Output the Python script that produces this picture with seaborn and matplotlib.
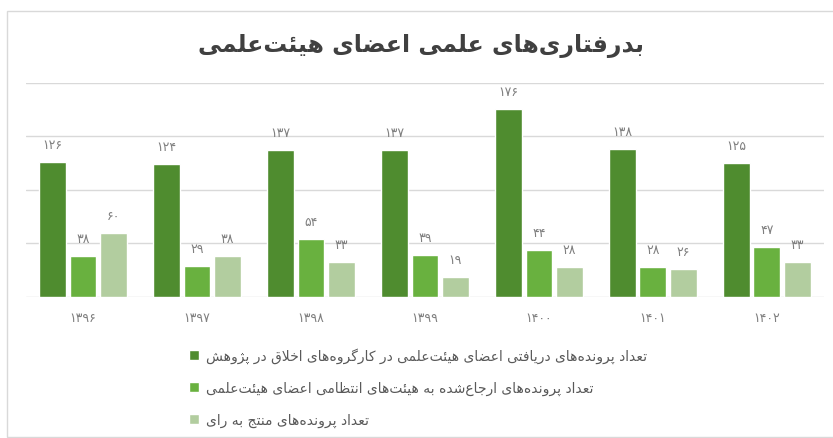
import matplotlib
matplotlib.use("Agg")
import matplotlib.pyplot as plt
import seaborn as sns
import pandas as pd
from matplotlib.patches import Rectangle

# ---------------- data ----------------
years = ["۱۳۹۶", "۱۳۹۷", "۱۳۹۸", "۱۳۹۹", "۱۴۰۰", "۱۴۰۱", "۱۴۰۲"]
received = [126, 124, 137, 137, 176, 138, 125]
referred = [38, 29, 54, 39, 44, 28, 47]
verdicts = [60, 38, 33, 19, 28, 26, 33]
series_names = [
    "تعداد پرونده‌های دریافتی اعضای هیئت‌علمی در کارگروه‌های اخلاق در پژوهش",
    "تعداد پرونده‌های ارجاع‌شده به هیئت‌های انتظامی اعضای هیئت‌علمی",
    "تعداد پرونده‌های منتج به رای",
]
title_text = "بدرفتاری‌های علمی اعضای هیئت‌علمی"
colors = ["#4f8c2f", "#69b13f", "#b2cd9f"]

# ---------------- simple Arabic-script shaping (RTL) ----------------
FORMS = {
    'ا': ('\uFE8D', '\uFE8E', None, None), 'آ': ('\uFE81', '\uFE82', None, None),
    'ب': ('\uFE8F', '\uFE90', '\uFE91', '\uFE92'), 'پ': ('\uFB56', '\uFB57', '\uFB58', '\uFB59'),
    'ت': ('\uFE95', '\uFE96', '\uFE97', '\uFE98'), 'ث': ('\uFE99', '\uFE9A', '\uFE9B', '\uFE9C'),
    'ج': ('\uFE9D', '\uFE9E', '\uFE9F', '\uFEA0'), 'چ': ('\uFB7A', '\uFB7B', '\uFB7C', '\uFB7D'),
    'ح': ('\uFEA1', '\uFEA2', '\uFEA3', '\uFEA4'), 'خ': ('\uFEA5', '\uFEA6', '\uFEA7', '\uFEA8'),
    'د': ('\uFEA9', '\uFEAA', None, None), 'ذ': ('\uFEAB', '\uFEAC', None, None),
    'ر': ('\uFEAD', '\uFEAE', None, None), 'ز': ('\uFEAF', '\uFEB0', None, None),
    'ژ': ('\uFB8A', '\uFB8B', None, None),
    'س': ('\uFEB1', '\uFEB2', '\uFEB3', '\uFEB4'), 'ش': ('\uFEB5', '\uFEB6', '\uFEB7', '\uFEB8'),
    'ص': ('\uFEB9', '\uFEBA', '\uFEBB', '\uFEBC'), 'ض': ('\uFEBD', '\uFEBE', '\uFEBF', '\uFEC0'),
    'ط': ('\uFEC1', '\uFEC2', '\uFEC3', '\uFEC4'), 'ظ': ('\uFEC5', '\uFEC6', '\uFEC7', '\uFEC8'),
    'ع': ('\uFEC9', '\uFECA', '\uFECB', '\uFECC'), 'غ': ('\uFECD', '\uFECE', '\uFECF', '\uFED0'),
    'ف': ('\uFED1', '\uFED2', '\uFED3', '\uFED4'), 'ق': ('\uFED5', '\uFED6', '\uFED7', '\uFED8'),
    'ک': ('\uFB8E', '\uFB8F', '\uFB90', '\uFB91'), 'گ': ('\uFB92', '\uFB93', '\uFB94', '\uFB95'),
    'ل': ('\uFEDD', '\uFEDE', '\uFEDF', '\uFEE0'), 'م': ('\uFEE1', '\uFEE2', '\uFEE3', '\uFEE4'),
    'ن': ('\uFEE5', '\uFEE6', '\uFEE7', '\uFEE8'), 'و': ('\uFEED', '\uFEEE', None, None),
    'ه': ('\uFEE9', '\uFEEA', '\uFEEB', '\uFEEC'), 'ی': ('\uFBFC', '\uFBFD', '\uFBFE', '\uFBFF'),
    'ئ': ('\uFE89', '\uFE8A', '\uFE8B', '\uFE8C'),
}
LAM_ALEF = {'ا': ('\uFEFB', '\uFEFC'), 'آ': ('\uFEF5', '\uFEF6')}


def dual(c):
    return c in FORMS and FORMS[c][2] is not None


def shape(text):
    out = []
    n = len(text)
    i = 0
    while i < n:
        c = text[i]
        if c not in FORMS:
            if c != '\u200c':
                out.append(c)
            i += 1
            continue
        prev = text[i - 1] if i > 0 else ''
        nxt = text[i + 1] if i + 1 < n else ''
        jp = dual(prev)
        if c == 'ل' and nxt in LAM_ALEF:
            out.append(LAM_ALEF[nxt][1 if jp else 0])
            i += 2
            continue
        jn = dual(c) and nxt in FORMS
        iso, fin, ini, med = FORMS[c]
        if jp and jn:
            out.append(med)
        elif jp:
            out.append(fin)
        elif jn:
            out.append(ini)
        else:
            out.append(iso)
        i += 1
    return ''.join(reversed(out))


def fa_digits(v):
    return str(v).translate(str.maketrans("0123456789", "۰۱۲۳۴۵۶۷۸۹"))


# ---------------- dataframe ----------------
labels = [shape(s) for s in series_names]
rows = []
for name, vals in zip(labels, [received, referred, verdicts]):
    for y, v in zip(years, vals):
        rows.append({"year": y, "value": v, "series": name})
df = pd.DataFrame(rows)

# ---------------- plot ----------------
sns.set_theme(style="white")
plt.rcParams['font.family'] = ['DejaVu Sans']

fig = plt.figure(figsize=(8.33, 4.39), dpi=100)
ax = fig.add_axes([0.0312, 0.3212, 0.9578, 0.4875])

sns.barplot(data=df, x="year", y="value", hue="series", palette=colors,
            width=0.8, gap=0.12, saturation=1, ax=ax, order=years,
            hue_order=labels)

ax.set_ylim(0, 200)
ax.set_xlim(-0.5, len(years) - 0.5)
ax.set_yticks([0, 50, 100, 150, 200])
ax.set_yticklabels([])
ax.yaxis.grid(True, color="#d9d9d9", linewidth=1)
ax.set_axisbelow(True)
for s in ax.spines.values():
    s.set_visible(False)
ax.tick_params(axis="both", length=0)
ax.tick_params(axis="x", labelsize=9, labelcolor="#7f7f7f", pad=10)
ax.set_xlabel("")
ax.set_ylabel("")

for cont, vals in zip(ax.containers, [received, referred, verdicts]):
    ax.bar_label(cont, labels=[fa_digits(v) for v in vals], padding=8,
                 fontsize=9, color="#7f7f7f")

leg = ax.legend(loc="upper left", bbox_to_anchor=(182 / 833, 1 - 341 / 439),
                bbox_transform=fig.transFigure, frameon=False, fontsize=10,
                handlelength=0.75, handleheight=0.75, handletextpad=0.45,
                labelspacing=1.3, borderpad=0)
for t in leg.get_texts():
    t.set_color("#595959")

fig.text(0.505, 1 - 46 / 439, shape(title_text), ha="center", va="center",
         fontsize=17, fontweight="bold", color="#404040")

fig.patches.append(Rectangle((7 / 833, 1 / 439), 1, 1 - 13 / 439,
                             transform=fig.transFigure, fill=False,
                             edgecolor="#d9d9d9", linewidth=1))

fig.savefig("out.png", dpi=100)
